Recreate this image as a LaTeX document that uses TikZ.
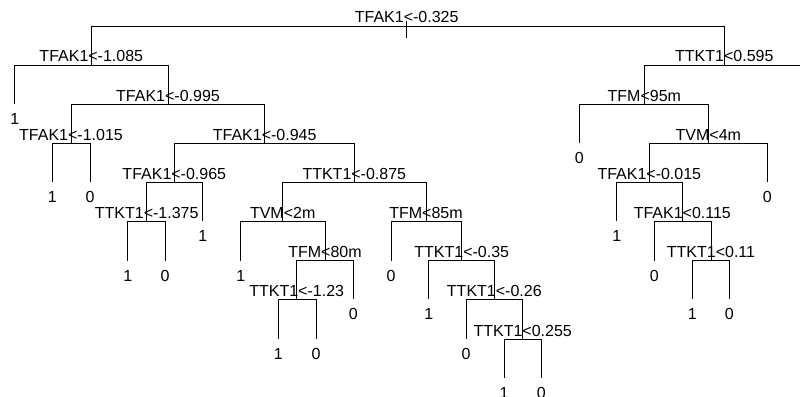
\documentclass[tikz,border=0pt]{standalone}
\usepackage{fontspec}
\setmainfont{Liberation Sans}
\begin{document}
\begin{tikzpicture}[x=1pt,y=-1pt,
  edge/.style={draw=black,line width=0.9pt},
  lab/.style={anchor=base,inner sep=0pt,font=\fontsize{16}{19}\selectfont,yshift=3pt},
  leaf/.style={anchor=base,inner sep=0pt,font=\fontsize{16}{19}\selectfont,yshift=-20.5pt}]
\useasboundingbox (0,0) rectangle (800,396);
\def\La{26}\def\Lb{65}\def\Lc{104}\def\Ld{143.3}\def\Le{182.3}
\def\Lf{221}\def\Lg{260.5}\def\Lh{299.3}\def\Li{339}\def\Lj{377.5}
% internal nodes
\coordinate (root) at (406.7,\La);
\coordinate (n1) at (91.3,\Lb);
\coordinate (n2) at (168,\Lc);
\coordinate (n3) at (71,\Ld);
\coordinate (n4) at (264.7,\Ld);
\coordinate (n5) at (174.3,\Le);
\coordinate (n6) at (146.7,\Lf);
\coordinate (n7) at (354.3,\Le);
\coordinate (n8) at (282.7,\Lf);
\coordinate (n9) at (325,\Lg);
\coordinate (n10) at (296.7,\Lh);
\coordinate (n11) at (426,\Lf);
\coordinate (n12) at (461.7,\Lg);
\coordinate (n13) at (494.3,\Lh);
\coordinate (n14) at (522.7,\Li);
\coordinate (r1) at (724.3,\Lb);
\coordinate (n15) at (644.3,\Lc);
\coordinate (n16) at (708.3,\Ld);
\coordinate (n17) at (649.3,\Le);
\coordinate (n18) at (682.3,\Lf);
\coordinate (n19) at (711,\Lg);
% leaves
\coordinate (a1) at (14.7,\Lc);
\coordinate (a2) at (52.3,\Le);
\coordinate (a3) at (90,\Le);
\coordinate (a4) at (127.7,\Lg);
\coordinate (a5) at (165,\Lg);
\coordinate (a6) at (202.7,\Lf);
\coordinate (a7) at (240.7,\Lg);
\coordinate (a8) at (278.3,\Li);
\coordinate (a9) at (316,\Li);
\coordinate (a10) at (353.3,\Lh);
\coordinate (a11) at (391,\Lg);
\coordinate (a12) at (428.7,\Lh);
\coordinate (a13) at (466,\Li);
\coordinate (a14) at (504,\Lj);
\coordinate (a15) at (541.3,\Lj);
\coordinate (a16) at (579.3,\Ld);
\coordinate (a17) at (767.3,\Le);
\coordinate (a18) at (616.7,\Lf);
\coordinate (a19) at (654.3,\Lg);
\coordinate (a20) at (692.3,\Lh);
\coordinate (a21) at (729.3,\Lh);
\coordinate (rr) at (800,\Lb);
\coordinate (rtop) at (406.7,21);
\coordinate (rbot) at (406.7,38);
% edges
\draw[edge] (rtop) -- (rbot);
\draw[edge] (root) -| (n1); \draw[edge] (root) -| (r1);
\draw[edge] (n1) -| (a1); \draw[edge] (n1) -| (n2);
\draw[edge] (n2) -| (n3); \draw[edge] (n2) -| (n4);
\draw[edge] (n3) -| (a2); \draw[edge] (n3) -| (a3);
\draw[edge] (n4) -| (n5); \draw[edge] (n4) -| (n7);
\draw[edge] (n5) -| (n6); \draw[edge] (n5) -| (a6);
\draw[edge] (n6) -| (a4); \draw[edge] (n6) -| (a5);
\draw[edge] (n7) -| (n8); \draw[edge] (n7) -| (n11);
\draw[edge] (n8) -| (a7); \draw[edge] (n8) -| (n9);
\draw[edge] (n9) -| (n10); \draw[edge] (n9) -| (a10);
\draw[edge] (n10) -| (a8); \draw[edge] (n10) -| (a9);
\draw[edge] (n11) -| (a11); \draw[edge] (n11) -| (n12);
\draw[edge] (n12) -| (a12); \draw[edge] (n12) -| (n13);
\draw[edge] (n13) -| (a13); \draw[edge] (n13) -| (n14);
\draw[edge] (n14) -| (a14); \draw[edge] (n14) -| (a15);
\draw[edge] (r1) -| (n15); \draw[edge] (r1) -- (rr);
\draw[edge] (n15) -| (a16); \draw[edge] (n15) -| (n16);
\draw[edge] (n16) -| (n17); \draw[edge] (n16) -| (a17);
\draw[edge] (n17) -| (a18); \draw[edge] (n17) -| (n18);
\draw[edge] (n18) -| (a19); \draw[edge] (n18) -| (n19);
\draw[edge] (n19) -| (a20); \draw[edge] (n19) -| (a21);
% split labels
\node[lab] (rootl) at (root) {TFAK1<-0.325};
\node[lab] (n1l) at (n1) {TFAK1<-1.085};
\node[lab] (n2l) at (n2) {TFAK1<-0.995};
\node[lab] (n3l) at (n3) {TFAK1<-1.015};
\node[lab] (n4l) at (n4) {TFAK1<-0.945};
\node[lab] (n5l) at (n5) {TFAK1<-0.965};
\node[lab] (n6l) at (n6) {TTKT1<-1.375};
\node[lab] (n7l) at (n7) {TTKT1<-0.875};
\node[lab] (n8l) at (n8) {TVM<2m};
\node[lab] (n9l) at (n9) {TFM<80m};
\node[lab] (n10l) at (n10) {TTKT1<-1.23};
\node[lab] (n11l) at (n11) {TFM<85m};
\node[lab] (n12l) at (n12) {TTKT1<-0.35};
\node[lab] (n13l) at (n13) {TTKT1<-0.26};
\node[lab] (n14l) at (n14) {TTKT1<0.255};
\node[lab] (r1l) at (r1) {TTKT1<0.595};
\node[lab] (n15l) at (n15) {TFM<95m};
\node[lab] (n16l) at (n16) {TVM<4m};
\node[lab] (n17l) at (n17) {TFAK1<-0.015};
\node[lab] (n18l) at (n18) {TFAK1<0.115};
\node[lab] (n19l) at (n19) {TTKT1<0.11};
% leaf labels
\node[leaf] (a1l) at (a1) {1};
\node[leaf] (a2l) at (a2) {1};
\node[leaf] (a3l) at (a3) {0};
\node[leaf] (a4l) at (a4) {1};
\node[leaf] (a5l) at (a5) {0};
\node[leaf] (a6l) at (a6) {1};
\node[leaf] (a7l) at (a7) {1};
\node[leaf] (a8l) at (a8) {1};
\node[leaf] (a9l) at (a9) {0};
\node[leaf] (a10l) at (a10) {0};
\node[leaf] (a11l) at (a11) {0};
\node[leaf] (a12l) at (a12) {1};
\node[leaf] (a13l) at (a13) {0};
\node[leaf] (a14l) at (a14) {1};
\node[leaf] (a15l) at (a15) {0};
\node[leaf] (a16l) at (a16) {0};
\node[leaf] (a17l) at (a17) {0};
\node[leaf] (a18l) at (a18) {1};
\node[leaf] (a19l) at (a19) {0};
\node[leaf] (a20l) at (a20) {1};
\node[leaf] (a21l) at (a21) {0};
\end{tikzpicture}
\end{document}
